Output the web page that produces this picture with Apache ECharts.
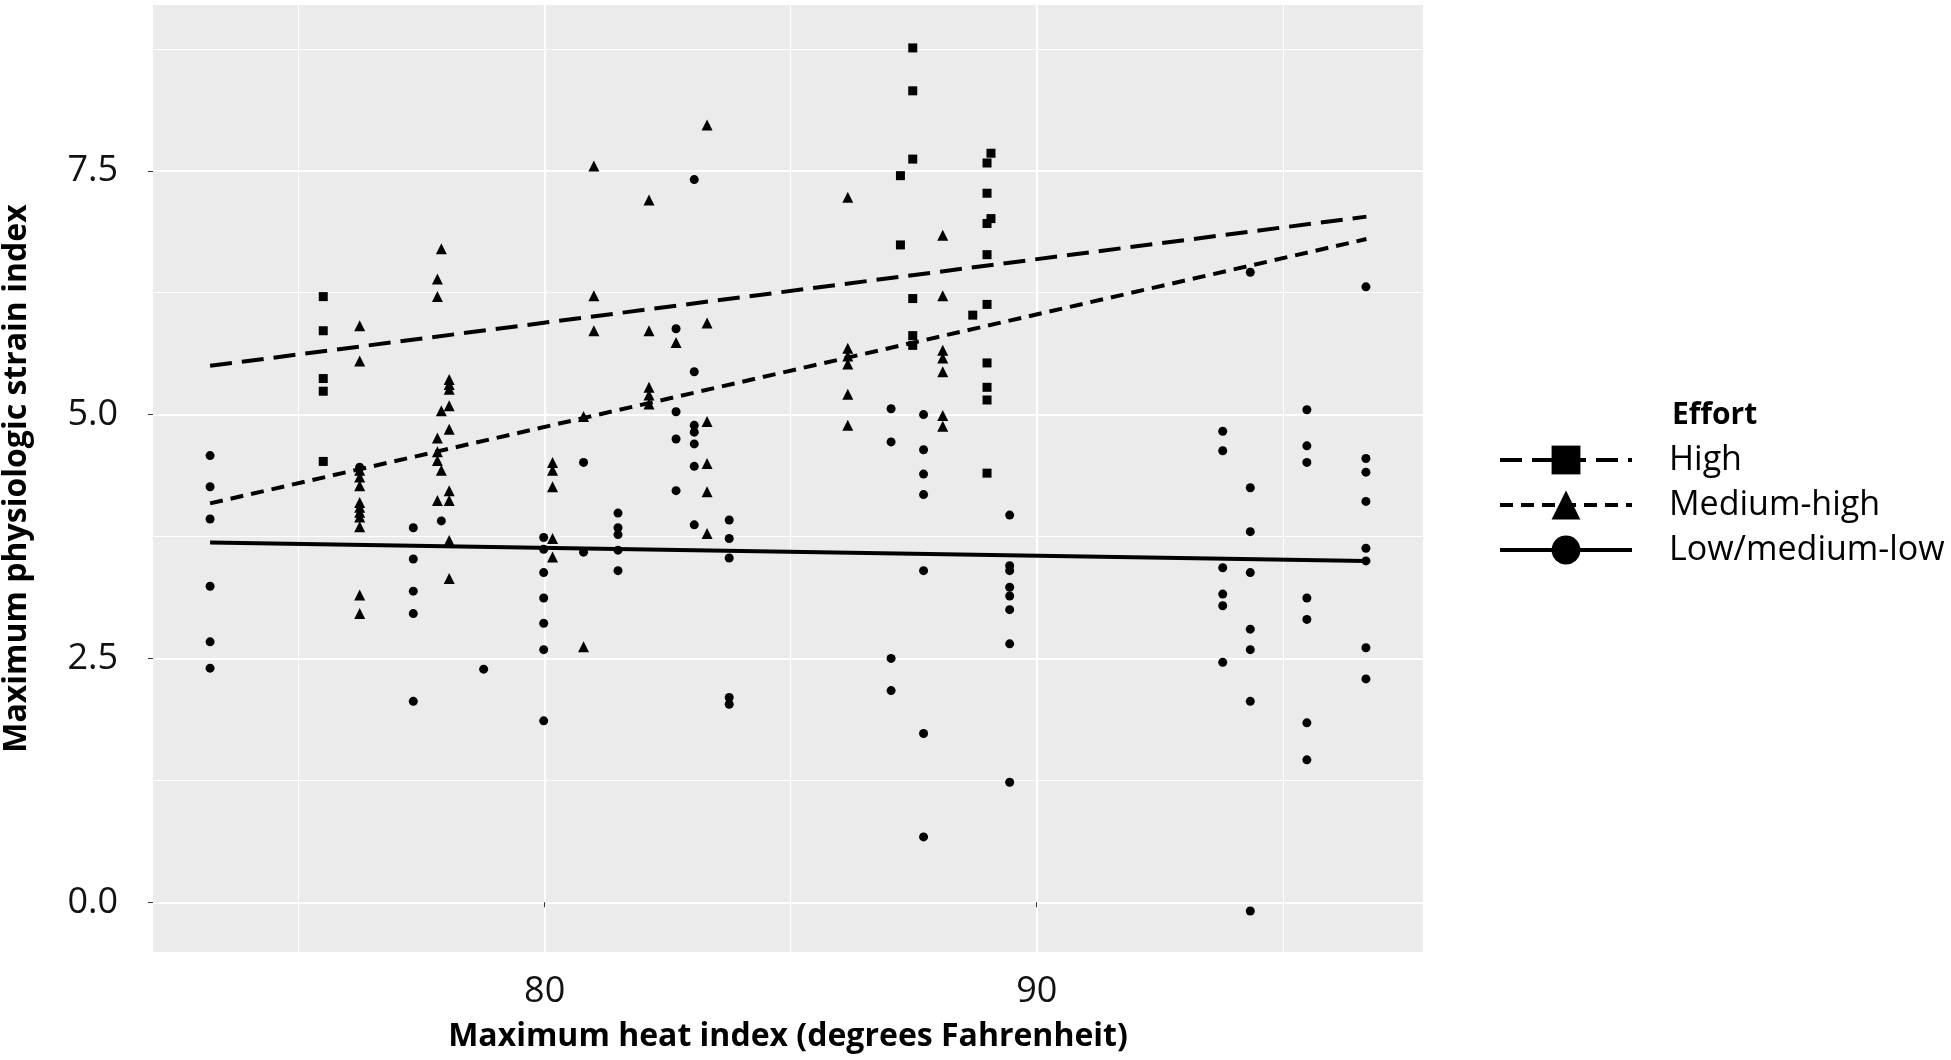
<!DOCTYPE html>
<html>
<head>
<meta charset="utf-8">
<script src="https://cdn.jsdelivr.net/npm/echarts@6/dist/echarts.min.js"></script>
<style>
  html, body { margin: 0; padding: 0; background: #fff; }
  #chart { width: 1951px; height: 1060px; }
</style>
</head>
<body>
<div id="chart"></div>
<script>
// effort groups
var groupNames = ['High', 'Medium-high', 'Low/medium-low'];

// points: [heat index, strain index]
var highPts = [
    [75.5, 6.21], [75.5, 5.86], [75.5, 5.37], [75.5, 5.24], [75.5, 4.52],
    [87.23, 7.45], [87.23, 6.74],
    [87.48, 8.76], [87.48, 8.32], [87.48, 7.62], [87.48, 6.19], [87.48, 5.81], [87.48, 5.71],
    [88.7, 6.02],
    [88.99, 7.58], [88.99, 7.27], [88.99, 6.96], [88.99, 6.64], [88.99, 6.13],
    [88.99, 5.53], [88.99, 5.28], [88.99, 5.15], [88.99, 4.40],
    [89.07, 7.68], [89.07, 7.01]
];

var medHighPts = [
    [76.24, 5.91], [76.24, 5.55], [76.24, 4.43], [76.24, 4.36], [76.24, 4.27], [76.24, 4.10],
    [76.24, 4.05], [76.24, 4.0], [76.24, 3.95], [76.24, 3.85], [76.24, 3.15], [76.24, 2.96],
    [77.82, 6.39], [77.82, 6.21], [77.82, 4.76], [77.82, 4.62], [77.82, 4.53], [77.82, 4.12],
    [77.9, 6.70], [77.9, 5.04], [77.9, 4.43],
    [78.06, 5.36], [78.06, 5.31], [78.06, 5.26], [78.06, 5.09], [78.06, 4.85],
    [78.06, 4.22], [78.06, 4.12], [78.06, 3.71], [78.06, 3.32],
    [80.16, 4.51], [80.16, 4.43], [80.16, 4.26], [80.16, 3.73], [80.16, 3.54],
    [80.79, 4.98], [80.79, 2.62],
    [81.0, 7.55], [81.0, 6.22], [81.0, 5.86],
    [82.12, 7.20], [82.12, 5.86], [82.12, 5.28], [82.12, 5.20], [82.12, 5.11],
    [82.67, 5.74],
    [83.3, 7.97], [83.3, 5.94], [83.3, 4.93], [83.3, 4.50], [83.3, 4.21], [83.3, 3.78],
    [86.16, 7.23], [86.16, 5.68], [86.16, 5.60], [86.16, 5.52], [86.16, 5.21], [86.16, 4.89],
    [88.09, 6.84], [88.09, 6.22], [88.09, 5.66], [88.09, 5.58], [88.09, 5.44], [88.09, 4.99], [88.09, 4.88]
];

var lowPts = [
    [73.2, 4.58], [73.2, 4.26], [73.2, 3.93], [73.2, 3.24], [73.2, 2.67], [73.2, 2.40],
    [76.24, 4.46],
    [77.33, 3.84], [77.33, 3.52], [77.33, 3.19], [77.33, 2.96], [77.33, 2.06],
    [77.9, 3.91],
    [78.76, 2.39],
    [79.98, 3.74], [79.98, 3.62], [79.98, 3.38], [79.98, 3.12], [79.98, 2.86], [79.98, 2.59], [79.98, 1.86],
    [80.79, 4.51], [80.79, 3.59],
    [81.49, 3.99], [81.49, 3.84], [81.49, 3.77], [81.49, 3.61], [81.49, 3.40],
    [82.67, 5.88], [82.67, 5.03], [82.67, 4.75], [82.67, 4.22],
    [83.04, 7.41], [83.04, 5.44], [83.04, 4.89], [83.04, 4.82], [83.04, 4.70], [83.04, 4.47], [83.04, 3.87],
    [83.75, 3.92], [83.75, 3.73], [83.75, 3.53], [83.75, 2.10], [83.75, 2.03],
    [87.04, 5.06], [87.04, 4.72], [87.04, 2.50], [87.04, 2.17],
    [87.7, 5.00], [87.7, 4.64], [87.7, 4.39], [87.7, 4.18], [87.7, 3.40], [87.7, 1.73], [87.7, 0.67],
    [89.45, 3.97], [89.45, 3.45], [89.45, 3.40], [89.45, 3.23], [89.45, 3.14], [89.45, 3.00], [89.45, 2.65], [89.45, 1.23],
    [93.78, 4.83], [93.78, 4.63], [93.78, 3.43], [93.78, 3.16], [93.78, 3.04], [93.78, 2.46],
    [94.34, 6.46], [94.34, 4.25], [94.34, 3.80], [94.34, 3.38], [94.34, 2.80], [94.34, 2.59], [94.34, 2.06], [94.34, -0.09],
    [95.49, 5.05], [95.49, 4.68], [95.49, 4.51], [95.49, 3.12], [95.49, 2.90], [95.49, 1.84], [95.49, 1.46],
    [96.69, 6.31], [96.69, 4.55], [96.69, 4.41], [96.69, 4.11], [96.69, 3.63], [96.69, 3.50], [96.69, 2.61], [96.69, 2.29]
];

// fitted lines, end points
var fitX = [73.2, 96.7];
var fitHigh = [5.50, 7.03];
var fitMedHigh = [4.09, 6.80];
var fitLow = [3.69, 3.50];

// axis ticks
var xTicks = [80, 90];
var yTicks = [0, 2.5, 5, 7.5];

var myChart = echarts.init(document.getElementById('chart'));

function fitLine(ys) {
    return fitX.map(function (x, i) { return [x, ys[i]]; });
}

var shapes = ['rect', 'triangle', 'circle'];
var dashes = [[22, 10], [13, 8], 'solid'];
var sizes = [9, 11, 9];
var pts = [highPts, medHighPts, lowPts];
var fits = [fitHigh, fitMedHigh, fitLow];

var series = [];
// line series first so the legend picks up line + symbol
groupNames.forEach(function (name, i) {
    series.push({
        name: name,
        type: 'line',
        data: fitLine(fits[i]),
        symbol: shapes[i],
        showSymbol: false,
        z: 3,
        lineStyle: { color: '#000', width: 4, type: dashes[i] },
        itemStyle: { color: '#000' },
        silent: true
    });
});
groupNames.forEach(function (name, i) {
    series.push({
        name: name,
        type: 'scatter',
        data: pts[i],
        symbol: shapes[i],
        symbolSize: sizes[i],
        itemStyle: { color: '#000', opacity: 1 },
        silent: true
    });
});

var option = {
    animation: false,
    backgroundColor: '#fff',
    textStyle: { fontFamily: 'Open Sans' },
    title: {
        text: 'Effort',
        left: 1672,
        top: 395,
        padding: 0,
        textStyle: { fontFamily: 'Open Sans', fontSize: 30, fontWeight: 'bold', color: '#000', lineHeight: 40 }
    },
    legend: {
        data: groupNames,
        orient: 'vertical',
        left: 1498,
        top: 443,
        padding: 0,
        itemWidth: 132,
        itemHeight: 36,
        itemGap: 11,
        selectedMode: false,
        lineStyle: { width: 4 },
        textStyle: { fontFamily: 'Open Sans', fontSize: 34, color: '#000', padding: [0, 0, 0, 32] }
    },
    grid: {
        left: 153,
        right: 528,
        top: 5,
        bottom: 108,
        outerBoundsMode: 'none',
        containLabel: false,
        show: true,
        backgroundColor: '#EBEBEB',
        borderWidth: 0
    },
    xAxis: {
        type: 'value',
        min: 72.04,
        max: 97.85,
        minInterval: 10,
        maxInterval: 10,
        name: 'Maximum heat index (degrees Fahrenheit)',
        nameLocation: 'middle',
        nameGap: 64,
        nameTextStyle: { fontFamily: 'Open Sans', fontSize: 32, fontWeight: 'bold', color: '#000', lineHeight: 40 },
        axisLine: { show: false },
        axisTick: { show: true, length: 5, lineStyle: { color: '#333', width: 1 }, customValues: xTicks },
        axisLabel: { fontSize: 36, color: '#111', margin: 20, lineHeight: 40, customValues: xTicks },
        splitLine: { show: true, lineStyle: { color: '#fff', width: 2.2 } },
        minorTick: { show: false, splitNumber: 2 },
        minorSplitLine: { show: true, lineStyle: { color: '#fff', width: 1.1 } }
    },
    yAxis: {
        type: 'value',
        min: -0.51,
        max: 9.2,
        minInterval: 2.5,
        maxInterval: 2.5,
        name: 'Maximum physiologic strain index',
        nameLocation: 'middle',
        nameGap: 116,
        nameTextStyle: { fontFamily: 'Open Sans', fontSize: 32, fontWeight: 'bold', color: '#000', lineHeight: 40 },
        axisLine: { show: false },
        axisTick: { show: true, length: 5, lineStyle: { color: '#333', width: 1 }, customValues: yTicks },
        axisLabel: {
            fontSize: 36, color: '#111', margin: 35, customValues: yTicks,
            formatter: function (v) { return v.toFixed(1); }
        },
        splitLine: { show: true, lineStyle: { color: '#fff', width: 2.2 } },
        minorTick: { show: false, splitNumber: 2 },
        minorSplitLine: { show: true, lineStyle: { color: '#fff', width: 1.1 } }
    },
    series: series
};

myChart.setOption(option, true);
</script>
</body>
</html>
